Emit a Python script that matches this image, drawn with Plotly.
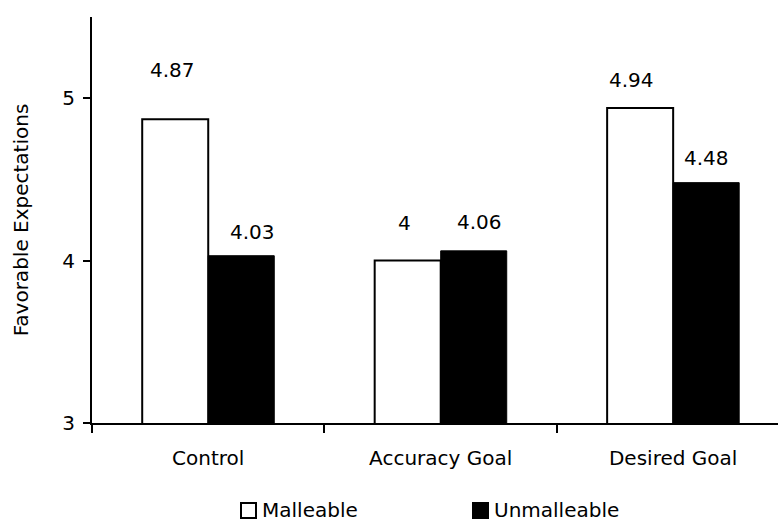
import plotly.graph_objects as go

# Category names and mean scores per condition
categories = ["Control", "Accuracy Goal", "Desired Goal"]
malleable = [4.87, 4.00, 4.94]
unmalleable = [4.03, 4.06, 4.48]
value_labels_malleable = ["4.87", "4", "4.94"]
value_labels_unmalleable = ["4.03", "4.06", "4.48"]
y_ticks = [3, 4, 5]
y_title = "Favorable Expectations"
series_names = ["Malleable", "Unmalleable"]

W, H = 778, 522
M_L, M_R, M_T, M_B = 92, 0, 17, 99
FONT = dict(family="DejaVu Sans, Verdana, sans-serif", size=20, color="#000000")

fig = go.Figure()
fig.add_trace(go.Bar(
    x=categories, y=malleable, name=series_names[0],
    marker=dict(color="#ffffff", line=dict(color="#000000", width=2)),
    showlegend=False,
))
fig.add_trace(go.Bar(
    x=categories, y=unmalleable, name=series_names[1],
    marker=dict(color="#000000", line=dict(color="#000000", width=1)),
    showlegend=False,
))

# value labels above the bars (offsets in px)
half = 0.142
lab_shift_m = [(-3, 49), (-3, 38), (-9, 28)]
lab_shift_u = [(11, 24), (6, 29), (0, 25)]
for i, cat in enumerate(categories):
    for vals, texts, shifts, sign in (
        (malleable, value_labels_malleable, lab_shift_m, -1),
        (unmalleable, value_labels_unmalleable, lab_shift_u, 1),
    ):
        fig.add_annotation(
            x=i + sign * half, y=vals[i], xref="x", yref="y",
            text=texts[i], showarrow=False, font=FONT,
            xanchor="center", yanchor="middle",
            xshift=shifts[i][0], yshift=shifts[i][1],
        )

# hand-built legend under the plot
pw = W - M_L - M_R
ph = H - M_T - M_B
def px2paper_x(px):
    return (px - M_L) / pw
def px2paper_y(py):
    return (H - M_B - py) / ph

legend_items = [(240, "#ffffff", series_names[0]), (472, "#000000", series_names[1])]
for x0, fill, name in legend_items:
    fig.add_shape(
        type="rect", xref="paper", yref="paper",
        x0=px2paper_x(x0 + 1), x1=px2paper_x(x0 + 16),
        y0=px2paper_y(518), y1=px2paper_y(503),
        fillcolor=fill, line=dict(color="#000000", width=2),
    )
    fig.add_annotation(
        x=px2paper_x(x0 + 20), y=px2paper_y(510), xref="paper", yref="paper",
        text=name, showarrow=False, font=FONT, xanchor="left", yanchor="middle",
    )

fig.update_layout(
    width=W, height=H,
    margin=dict(l=M_L, r=M_R, t=M_T, b=M_B),
    paper_bgcolor="#ffffff", plot_bgcolor="#ffffff",
    barmode="group", bargap=0.432, bargroupgap=0,
    font=FONT,
    xaxis=dict(
        type="category", range=[-0.5, 2.451],
        showline=True, linecolor="#000000", linewidth=2,
        tickson="boundaries", ticks="outside", ticklen=8, tickwidth=2,
        tickcolor="#000000", showgrid=False, zeroline=False,
        tickfont=FONT, ticklabelstandoff=16,
    ),
    yaxis=dict(
        range=[3, 5.5], tickvals=y_ticks,
        showline=True, linecolor="#000000", linewidth=2,
        ticks="outside", ticklen=7, tickwidth=2, tickcolor="#000000",
        showgrid=False, zeroline=False, tickfont=FONT,
        ticklabelstandoff=4,
        title=dict(text=y_title, font=FONT, standoff=28),
    ),
)

fig.write_html("out.html")
